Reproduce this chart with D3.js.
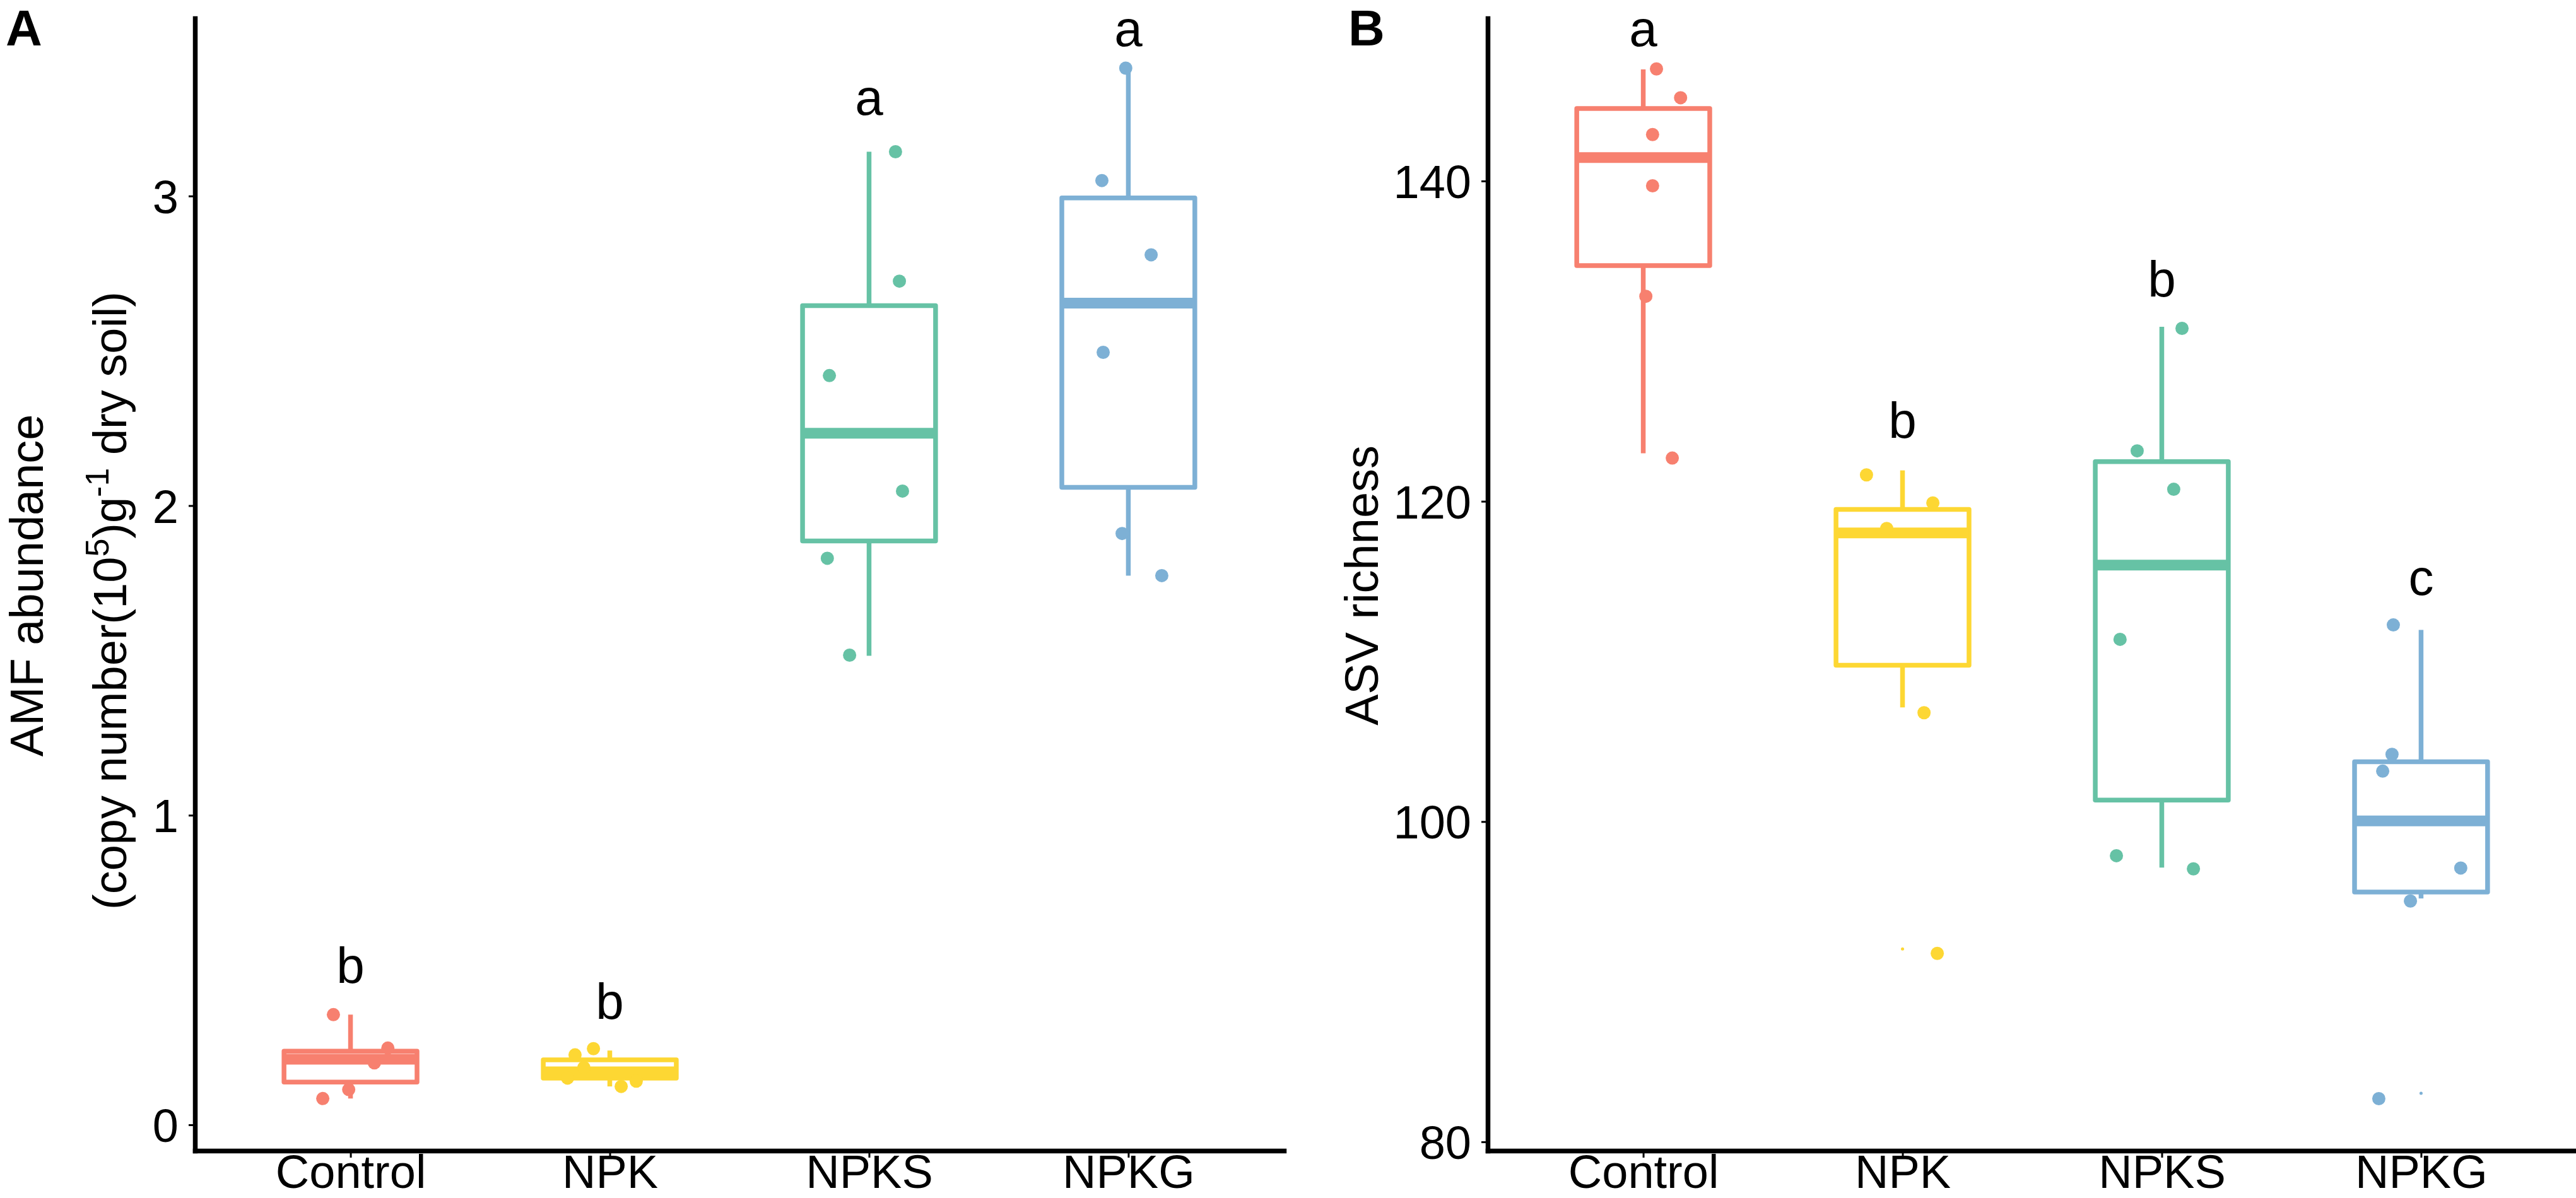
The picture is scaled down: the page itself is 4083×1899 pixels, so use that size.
<!DOCTYPE html>
<html>
<head>
<meta charset="utf-8">
<script src="https://cdn.jsdelivr.net/npm/d3@7"></script>
<style>
	body { margin: 0; background: #fff; }
	svg { display: block; font-family: 'Liberation Sans', Arial, sans-serif; }
</style>
</head>
<body>
<div id="chart"></div>
<script>

var groups = ['Control', 'NPK', 'NPKS', 'NPKG'];
var groupColors = ['#F7806F', '#FDD733', '#66C2A5', '#7DB0D5'];

// Panel A: AMF abundance
var amfTicks = [0, 1, 2, 3];
// lower whisker, q1, median, q3, upper whisker
var amfStats = [
	[0.085, 0.138, 0.212, 0.238, 0.356],
	[0.124, 0.151, 0.171, 0.210, 0.240],
	[1.515, 1.886, 2.234, 2.646, 3.143],
	[1.774, 2.059, 2.654, 2.994, 3.413]
];
var amfPoints = [
	[0.356, 0.248, 0.200, 0.114, 0.085],
	[0.226, 0.246, 0.185, 0.151, 0.124, 0.141],
	[3.143, 2.725, 2.420, 2.047, 1.830, 1.517],
	[3.413, 3.050, 2.810, 2.495, 1.910, 1.774]
];
// horizontal jitter, in category steps
var amfJitter = [
	[-0.066, 0.144, 0.092, -0.007, -0.107],
	[-0.134, -0.063, -0.100, -0.163, 0.044, 0.102],
	[0.102, 0.117, -0.153, 0.129, -0.161, -0.075],
	[-0.010, -0.102, 0.088, -0.097, -0.024, 0.129]
];
var amfOutliers = [[], [], [], []];
var amfLetters = ['b', 'b', 'a', 'a'];
var amfLetterY = [0.458, 0.342, 3.263, 3.485];

// Panel B: ASV richness
var asvTicks = [80, 100, 120, 140];
var asvStats = [
	[123.0, 134.72, 141.46, 144.53, 146.97],
	[107.13, 109.76, 118.03, 119.49, 121.93],
	[97.13, 101.34, 116.02, 122.48, 130.9],
	[95.2, 95.6, 100.04, 103.74, 111.97]
];
var asvPoints = [
	[147.0, 145.2, 142.9, 139.7, 132.8, 122.7],
	[121.65, 119.9, 118.3, 106.8, 91.77],
	[130.8, 123.15, 120.75, 111.38, 97.87, 97.05],
	[112.28, 104.2, 103.15, 97.1, 95.04, 82.7]
];
var asvJitter = [
	[0.051, 0.144, 0.036, 0.036, 0.010, 0.112],
	[-0.139, 0.117, -0.061, 0.083, 0.134],
	[0.078, -0.095, 0.046, -0.161, -0.175, 0.122],
	[-0.107, -0.112, -0.148, 0.153, -0.041, -0.163]
];
var asvOutliers = [[], [92.05], [], [83.03]];
var asvLetters = ['a', 'b', 'b', 'c'];
var asvLetterY = [148.42, 123.98, 132.8, 114.17];


var width = 4083, height = 1899;
var plotTop = 29, plotBottom = 1824, panelWidth = 1726;

var svg = d3.select('#chart').append('svg')
	.attr('width', width)
	.attr('height', height);


function drawPanel(p) {

	var x = d3.scalePoint()
		.domain(groups)
		.range([p.left, p.left + panelWidth])
		.padding(0.6);

	var y = d3.scaleLinear()
		.domain(p.domain)
		.range([plotBottom, plotTop]);

	var step = x.step();
	var boxW = 0.513 * step;
	var g = svg.append('g');

	// Axes
	var yAxis = g.append('g')
		.attr('transform', 'translate(' + p.left + ',0)')
		.call(d3.axisLeft(y).tickValues(p.ticks).tickFormat(d3.format('d'))
			.tickSize(10).tickSizeOuter(0).tickPadding(16));

	var xAxis = g.append('g')
		.attr('transform', 'translate(0,' + plotBottom + ')')
		.call(d3.axisBottom(x).tickSize(11).tickSizeOuter(0));

	[yAxis, xAxis].forEach(function(ax) {
		ax.select('.domain').attr('stroke', '#000').attr('stroke-width', 7.5).attr('stroke-linecap', 'square');
		ax.selectAll('.tick line').attr('stroke', '#000').attr('stroke-width', 3);
		ax.selectAll('.tick text').attr('fill', '#000').attr('font-size', 74)
			.attr('font-family', "'Liberation Sans', Arial, sans-serif");
	});
	yAxis.selectAll('.tick text').attr('dy', '0.36em');
	xAxis.selectAll('.tick text').attr('dy', null).attr('y', 59);

	// Boxes
	var boxes = g.selectAll('g.box')
		.data(groups)
		.enter()
		.append('g')
		.attr('class', 'box');

	boxes.each(function(name, i) {

		var el = d3.select(this);
		var s = p.stats[i], cx = x(name), col = groupColors[i];

		el.append('line')
			.attr('x1', cx).attr('x2', cx)
			.attr('y1', y(s[4])).attr('y2', y(s[3]))
			.attr('stroke', col).attr('stroke-width', 7.5);

		el.append('line')
			.attr('x1', cx).attr('x2', cx)
			.attr('y1', y(s[1])).attr('y2', y(s[0]))
			.attr('stroke', col).attr('stroke-width', 7.5);

		el.append('rect')
			.attr('x', cx - boxW / 2)
			.attr('y', y(s[3]))
			.attr('width', boxW)
			.attr('height', y(s[1]) - y(s[3]))
			.attr('fill', '#fff')
			.attr('stroke', col)
			.attr('stroke-width', 7.5)
			.attr('stroke-linejoin', 'round');

		el.append('line')
			.attr('x1', cx - boxW / 2).attr('x2', cx + boxW / 2)
			.attr('y1', y(s[2])).attr('y2', y(s[2]))
			.attr('stroke', col).attr('stroke-width', 17);

		el.selectAll('circle.out')
			.data(p.outliers[i])
			.enter()
			.append('circle')
			.attr('class', 'out')
			.attr('cx', cx)
			.attr('cy', (d) => y(d))
			.attr('r', 2.5)
			.attr('fill', col);

		el.selectAll('circle.pt')
			.data(p.points[i])
			.enter()
			.append('circle')
			.attr('class', 'pt')
			.attr('cx', (d, j) => cx + p.jitter[i][j] * step)
			.attr('cy', (d) => y(d))
			.attr('r', 10.5)
			.attr('fill', col);

		el.append('text')
			.attr('x', cx)
			.attr('y', y(p.letterY[i]))
			.attr('text-anchor', 'middle')
			.attr('font-size', 80)
			.text(p.letters[i]);
	});

	// Panel tag
	g.append('text')
		.attr('x', p.tagX)
		.attr('y', 72)
		.attr('font-size', 80)
		.attr('font-weight', 'bold')
		.text(p.tag);
}


drawPanel({
	left: 309, domain: [-0.0835, 3.574], ticks: amfTicks,
	stats: amfStats, points: amfPoints, jitter: amfJitter, outliers: amfOutliers,
	letters: amfLetters, letterY: amfLetterY, tag: 'A', tagX: 9
});

drawPanel({
	left: 2358, domain: [79.45, 150.16], ticks: asvTicks,
	stats: asvStats, points: asvPoints, jitter: asvJitter, outliers: asvOutliers,
	letters: asvLetters, letterY: asvLetterY, tag: 'B', tagX: 2137
});


// Axis titles
svg.append('text')
	.attr('transform', 'translate(68,928) rotate(-90)')
	.attr('text-anchor', 'middle')
	.attr('font-size', 74)
	.text('AMF abundance');

var sub = svg.append('text')
	.attr('transform', 'translate(200,952) rotate(-90)')
	.attr('text-anchor', 'middle')
	.attr('font-size', 74);
sub.append('tspan').text('(copy number(10');
sub.append('tspan').attr('font-size', 52).attr('dy', -28).text('5');
sub.append('tspan').attr('dy', 28).text(')g');
sub.append('tspan').attr('font-size', 52).attr('dy', -28).text('-1');
sub.append('tspan').attr('dy', 28).text(' dry soil)');

svg.append('text')
	.attr('transform', 'translate(2184,928) rotate(-90)')
	.attr('text-anchor', 'middle')
	.attr('font-size', 74)
	.text('ASV richness');

</script>
</body>
</html>
